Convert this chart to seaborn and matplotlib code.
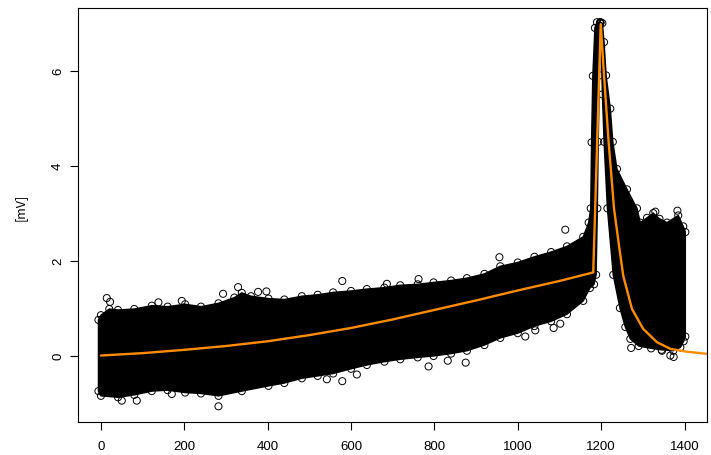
import matplotlib
matplotlib.use("Agg")
import matplotlib.pyplot as plt
import numpy as np
import seaborn as sns

# envelope of the dense point cloud
# main band + rising edge of the spike
band_top_x = [-6, 0, 20, 41, 80, 122, 160, 202, 240, 282, 320, 338, 360, 402, 440, 482,
              520, 557, 600, 638, 680, 718, 760, 798, 840, 878, 920, 958, 1000, 1040,
              1080, 1118, 1157, 1170, 1175, 1177, 1180, 1185, 1190, 1198]
band_top_y = [0.75, 0.85, 0.98, 0.96, 0.98, 1.05, 1.03, 1.08, 1.03, 1.1, 1.22, 1.32, 1.25,
              1.2, 1.18, 1.25, 1.28, 1.33, 1.36, 1.4, 1.43, 1.48, 1.5, 1.54, 1.58, 1.63,
              1.72, 1.88, 1.96, 2.08, 2.18, 2.3, 2.5, 2.8, 3.1, 4.49, 5.89, 6.9, 7.02, 7.02]
band_bot_x = [-6, 0, 41, 80, 122, 160, 202, 240, 282, 338, 402, 440, 482, 520, 557, 600,
              638, 680, 718, 760, 798, 840, 878, 920, 958, 1000, 1040, 1080, 1118, 1157,
              1173, 1183, 1188, 1191, 1193, 1196, 1198]
band_bot_y = [-0.75, -0.85, -0.88, -0.83, -0.75, -0.73, -0.78, -0.8, -0.85, -0.75, -0.64,
              -0.58, -0.48, -0.43, -0.38, -0.28, -0.2, -0.13, -0.08, -0.04, -0.01, 0.04,
              0.1, 0.22, 0.37, 0.47, 0.62, 0.72, 0.87, 1.15, 1.42, 1.5, 1.7, 3.1, 4.5,
              5.9, 7.0]

# falling edge of the spike + block of points up to 1400
tail_top_x = [1198, 1203, 1207, 1212, 1222, 1228, 1238, 1262, 1286, 1294, 1310, 1325, 1340,
              1358, 1385, 1397, 1402]
tail_top_y = [7.02, 7.0, 6.6, 5.9, 5.2, 4.5, 3.93, 3.5, 3.1, 2.8, 2.9, 3.0, 2.88, 2.8,
              2.95, 2.72, 2.6]
tail_bot_x = [1198, 1200, 1203, 1207, 1215, 1229, 1245, 1258, 1270, 1290, 1320, 1345, 1373,
              1390, 1398, 1402]
tail_bot_y = [7.0, 6.5, 5.5, 4.5, 3.1, 1.7, 1.0, 0.6, 0.35, 0.2, 0.15, 0.12, 0.1, 0.17,
              0.3, 0.4]

# scattered points outside the dense band
out_x = [14, 22, 138, 194, 293, 329, 377, 397, 282, 50, 86, 170, 579, 686, 762, 956, 875,
         832, 786, 614, 579, 542, 1114, 1086, 1102, 1018, 1042, 1272, 1383, 1330, 1366,
         1346, 1374]
out_y = [1.21, 1.13, 1.12, 1.15, 1.3, 1.44, 1.34, 1.35, -1.07, -0.95, -0.95, -0.81, 1.57,
         1.51, 1.61, 2.07, -0.15, -0.11, -0.23, -0.4, -0.54, -0.5, 2.65, 0.58, 0.67, 0.4,
         0.53, 0.16, 3.05, 3.03, 0.0, 0.1, -0.03]

# fitted curve
curve_x = [0, 100, 200, 300, 400, 500, 600, 700, 800, 900, 1000, 1100, 1181, 1199, 1207,
           1218, 1231, 1242, 1253, 1274, 1301, 1334, 1366, 1406, 1460]
curve_y = [0, 0.05, 0.12, 0.2, 0.3, 0.43, 0.58, 0.76, 0.96, 1.16, 1.37, 1.57, 1.75, 6.98,
           5.89, 4.49, 3.09, 2.37, 1.68, 0.98, 0.56, 0.28, 0.14, 0.08, 0.03]

sns.set_style("ticks")
plt.rcParams['font.family'] = ['Liberation Sans', 'DejaVu Sans']
plt.rcParams['text.color'] = 'black'
plt.rcParams['axes.labelcolor'] = 'black'
plt.rcParams['xtick.color'] = 'black'
plt.rcParams['ytick.color'] = 'black'

fig = plt.figure(figsize=(7.11, 4.56), dpi=100)
ax = fig.add_axes([0.1097, 0.0724, 0.8847, 0.9079])

ax.fill(band_top_x + band_bot_x[::-1], band_top_y + band_bot_y[::-1],
        color='black', lw=1.0)
ax.fill(tail_top_x + tail_bot_x[::-1], tail_top_y + tail_bot_y[::-1],
        color='black', lw=1.0)

edge_x = band_top_x + band_bot_x + tail_top_x + tail_bot_x + out_x
edge_y = band_top_y + band_bot_y + tail_top_y + tail_bot_y + out_y
sns.scatterplot(x=edge_x, y=edge_y, s=26, color='black', linewidth=0.7, ax=ax)
pts = ax.collections[-1]
pts.set_facecolor('none')
pts.set_edgecolor('black')

sns.lineplot(x=curve_x, y=curve_y, color='#FF8C00', linewidth=1.7, sort=False,
             estimator=None, ax=ax)

ax.set_xlim(-55, 1454)
ax.set_ylim(-1.40, 7.32)
ax.set_xticks([0, 200, 400, 600, 800, 1000, 1200, 1400])
ax.set_yticks([0, 2, 4, 6])
ax.tick_params(direction='out', length=6, width=0.8, labelsize=9.5, color='black',
               labelcolor='black', bottom=True, left=True)
ax.tick_params(axis='x', pad=7)
ax.tick_params(axis='y', pad=4)
for lab in ax.get_yticklabels():
    lab.set_rotation(90)
    lab.set_va('center')

for sp in ax.spines.values():
    sp.set_visible(True)
    sp.set_color('black')
    sp.set_linewidth(0.8)

ax.set_ylabel('[mV]', fontsize=9, color='black', family=['Noto Sans CJK JP', 'DejaVu Sans'])
ax.yaxis.set_label_coords(-0.081, 0.52)

fig.savefig('out.png', dpi=100)
